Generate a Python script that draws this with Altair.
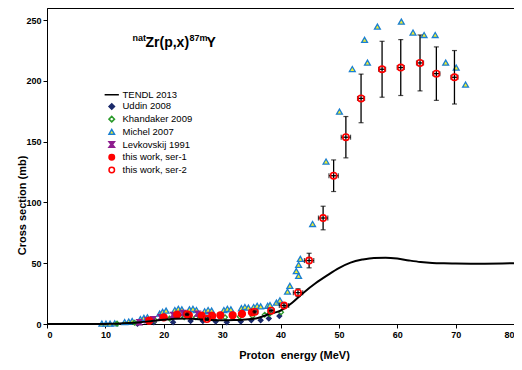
import altair as alt
import pandas as pd

# ---------------- data ----------------
series_names = ["TENDL 2013", "Uddin 2008", "Khandaker 2009", "Michel 2007",
                "Levkovskij 1991", "this work, ser-1", "this work, ser-2"]

tendl_E = [0, 9, 10, 12, 14, 16, 18, 20, 22, 24, 26, 28, 30, 32, 34, 36, 38, 40, 42, 44,
           46, 48, 50, 52, 54, 56, 58, 60, 62, 64, 66, 68, 70, 75, 80]
tendl_S = [0, 0, 0.1, 0.3, 0.8, 1.5, 2.5, 3.5, 4.3, 4.5, 4.0, 3.3, 3.0, 3.2, 3.8, 4.8, 8.0, 11.0, 17.5, 26.0,
           33.5, 40.0, 46.0, 50.5, 53.0, 54.4, 54.5, 53.8, 52.3, 51.0, 50.2, 49.9, 49.8, 49.6, 50.0]

uddin_E = [15.5, 18.3, 21.6, 24.6, 26.7, 28.9, 30.8, 33.2, 35.0, 36.6, 38.0, 39.8]
uddin_S = [0.3, 1.5, 1.5, 2.5, 2.5, 2.0, 1.5, 2.0, 3.0, 3.0, 4.5, 6.5]

khand_E = [12.0, 15.0, 18.5, 21.0, 23.5, 25.5, 27.4, 30.5, 33.0, 35.2, 37.3, 38.1, 40.1]
khand_S = [0.3, 1.0, 3.0, 4.5, 5.5, 5.5, 5.2, 5.5, 6.0, 6.5, 7.7, 8.3, 9.6]

michel_E = [9.4, 10.1, 10.8, 11.6, 13.3, 14.0, 14.6, 16.0, 16.6, 17.2, 19.3, 19.8, 20.4,
            21.9, 22.5, 23.1, 24.4, 25.0, 25.6, 27.0, 27.6, 28.2, 30.3, 30.9, 31.5,
            33.3, 33.9, 34.5, 35.4, 36.0, 36.6, 37.8, 38.2, 39.3, 39.9, 41.2, 41.6,
            42.7, 43.1, 43.1, 43.4, 45.5, 47.8, 50.1, 52.3, 54.4, 54.9, 56.6, 60.7,
            62.7, 64.6, 66.5, 68.3, 70.1, 71.7]
michel_S = [0.3, 0.3, 0.3, 0.5, 1.5, 2.0, 2.5, 4.0, 5.0, 5.5, 8.5, 10.0, 11.0,
            11.5, 12.5, 12.0, 12.0, 12.5, 11.5, 10.5, 11.5, 11.0, 11.5, 12.5, 12.0,
            13.0, 14.0, 13.5, 14.0, 15.0, 14.5, 15.0, 15.5, 17.6, 19.5, 26.7, 31.4,
            43.5, 39.6, 48.7, 53.6, 82.3, 133.7, 174.7, 209.8, 233.8, 215.0, 244.7, 248.8,
            239.8, 237.8, 237.8, 215.0, 211.0, 197.0]

levk_E = [15.8, 17.2, 18.2, 19.5, 21.6, 23.3, 25.8, 28.0]
levk_S = [1.5, 3.0, 4.0, 5.5, 7.5, 9.0, 8.5, 7.5]

ser1_E = [17.5, 20.0, 22.3, 24.3, 26.5, 28.3, 29.7, 31.8, 33.4, 35.1]
ser1_S = [2.7, 5.5, 7.7, 7.2, 6.8, 6.6, 7.2, 7.2, 8.3, 9.5]

ser2_E = [24.0, 27.4, 35.6, 38.4, 40.6, 43.0, 44.9, 47.3, 49.1, 51.2, 53.8, 57.4, 60.6, 63.9, 66.7, 69.8]
ser2_S = [8.0, 4.1, 10.0, 11.0, 15.2, 25.8, 52.2, 87.2, 122.0, 153.7, 185.6, 209.6, 211.0, 214.8, 206.0, 203.0]
ser2_dS = [1.0, 1.0, 1.0, 1.0, 1.5, 3.2, 6.0, 9.7, 13.0, 17.0, 20.0, 23.0, 23.0, 23.0, 22.0, 22.0]
ser2_dE = [0.5, 0.5, 0.5, 0.5, 0.8, 0.8, 0.8, 0.8, 0.8, 0.8, 0.6, 0.6, 0.6, 0.6, 0.6, 0.6]

title_parts = ["nat", "Zr(p,x)", "87m", "Y"]

x_ticks = [0, 10, 20, 30, 40, 50, 60, 70, 80]
y_ticks = [0, 50, 100, 150, 200, 250]

# ---------------- tables ----------------
tendl = pd.DataFrame({"E": tendl_E, "S": tendl_S})

def frame(name, E, S):
    return pd.DataFrame({"E": E, "S": S, "series": name})

ser2 = frame("this work, ser-2", ser2_E, ser2_S)
ser2["lo"] = [s - d for s, d in zip(ser2_S, ser2_dS)]
ser2["hi"] = [s + d for s, d in zip(ser2_S, ser2_dS)]
ser2["elo"] = [e - d for e, d in zip(ser2_E, ser2_dE)]
ser2["ehi"] = [e + d for e, d in zip(ser2_E, ser2_dE)]

# ---------------- scales / encodings ----------------
FONT = "Liberation Sans"
W, H = 467, 316
xs = alt.Scale(domain=[0, 80], nice=False, zero=False)
ys = alt.Scale(domain=[0, 260], nice=False)

x_axis = alt.Axis(values=x_ticks, grid=False, tickSize=4, labelPadding=2,
                  titleX=247, titleY=25, titleAlign="center", titleBaseline="top")
y_axis = alt.Axis(values=y_ticks, grid=False, tickSize=4, labelPadding=2,
                  titleX=-20, titleY=197, titleAlign="center")
XT = "Proton\u00a0 energy (MeV)"
YT = "Cross section (mb)"

def X(f):
    return alt.X(f, type="quantitative", scale=xs, axis=x_axis, title=XT)

def Y(f):
    return alt.Y(f, type="quantitative", scale=ys, axis=y_axis, title=YT)

legend = alt.Legend(title=None, orient="none", legendX=60, legendY=82,
                    labelFontSize=9.5, labelFont=FONT, symbolSize=30,
                    symbolStrokeWidth=1.5, rowPadding=0.7, labelOffset=6, padding=0)

shapes = ["M-2.6,0H2.6", "diamond", "diamond", "triangle-up",
          "M-1,-1H1L0.25,0L1,1H-1L-0.25,0Z", "circle", "circle"]
fills = ["transparent", "#1B2A6B", "transparent", "#F2EE2E", "#8E1E8E", "#FF0000", "transparent"]
strokes = ["black", "#1B2A6B", "#2A9A2A", "#1A7FD0", "#8E1E8E", "#FF0000", "#FF0000"]
sizes = {"Uddin 2008": 22, "Khandaker 2009": 22, "Michel 2007": 34,
         "Levkovskij 1991": 26, "this work, ser-1": 48, "this work, ser-2": 40}

enc = dict(
    x=X("E"), y=Y("S"),
    shape=alt.Shape("series:N", scale=alt.Scale(domain=series_names, range=shapes), legend=legend),
    fill=alt.Fill("series:N", scale=alt.Scale(domain=series_names, range=fills), legend=legend),
    stroke=alt.Stroke("series:N", scale=alt.Scale(domain=series_names, range=strokes), legend=legend),
)

def pts(df, name, sw=1.3):
    return alt.Chart(df).mark_point(filled=True, strokeWidth=sw, opacity=1,
                                    size=sizes[name]).encode(**enc)

p_michel = pts(frame("Michel 2007", michel_E, michel_S), "Michel 2007")
p_uddin = pts(frame("Uddin 2008", uddin_E, uddin_S), "Uddin 2008")
p_khand = pts(frame("Khandaker 2009", khand_E, khand_S), "Khandaker 2009")
p_levk = pts(frame("Levkovskij 1991", levk_E, levk_S), "Levkovskij 1991")
p_ser1 = pts(frame("this work, ser-1", ser1_E, ser1_S), "this work, ser-1")
p_ser2 = pts(ser2, "this work, ser-2", 1.6)

line = alt.Chart(tendl).mark_line(color="black", strokeWidth=2, interpolate="monotone").encode(
    x=X("E"), y=Y("S"))

vbar = alt.Chart(ser2).mark_rule(color="black", strokeWidth=1.3).encode(
    x=X("E"), y=Y("lo"), y2="hi")
vcap_lo = alt.Chart(ser2).mark_tick(color="black", orient="horizontal", size=5, thickness=1.2).encode(
    x=X("E"), y=Y("lo"))
vcap_hi = alt.Chart(ser2).mark_tick(color="black", orient="horizontal", size=5, thickness=1.2).encode(
    x=X("E"), y=Y("hi"))
hbar = alt.Chart(ser2).mark_rule(color="black", strokeWidth=1.3).encode(
    x=X("elo"), x2="ehi", y=Y("S"))
hcap_lo = alt.Chart(ser2).mark_tick(color="black", orient="vertical", size=5, thickness=1.2).encode(
    x=X("elo"), y=Y("S"))
hcap_hi = alt.Chart(ser2).mark_tick(color="black", orient="vertical", size=5, thickness=1.2).encode(
    x=X("ehi"), y=Y("S"))

# title pieces (nat)Zr(p,x)(87m)Y
title_pos = [(85.5, 32.5, 9), (98.5, 38.7, 14), (142.5, 32.5, 9), (159.5, 38.7, 14)]
titles = []
for part, (tx, ty, fs) in zip(title_parts, title_pos):
    titles.append(
        alt.Chart(pd.DataFrame({"t": [part]})).mark_text(
            align="left", baseline="alphabetic", fontSize=fs, fontWeight="bold",
            font=FONT, color="black").encode(
            x=alt.value(tx), y=alt.value(ty), text="t:N"))

chart = alt.layer(
    p_michel, p_uddin, p_khand, p_levk, p_ser1, line,
    vbar, vcap_lo, vcap_hi, hbar, hcap_lo, hcap_hi, p_ser2, *titles
).properties(
    width=W, height=H,
    autosize=alt.AutoSizeParams(type="none"),
    padding={"left": 39, "top": 0, "right": 0, "bottom": 38},
).configure_view(
    stroke="black", strokeWidth=1
).configure_axis(
    labelFont=FONT, titleFont=FONT, labelFontSize=9, labelFontWeight="bold",
    titleFontSize=11, titleFontWeight="bold", domainColor="black", tickColor="black",
    labelColor="black", titleColor="black"
)

chart.save("out.html", embed_options={"renderer": "svg", "actions": False})
